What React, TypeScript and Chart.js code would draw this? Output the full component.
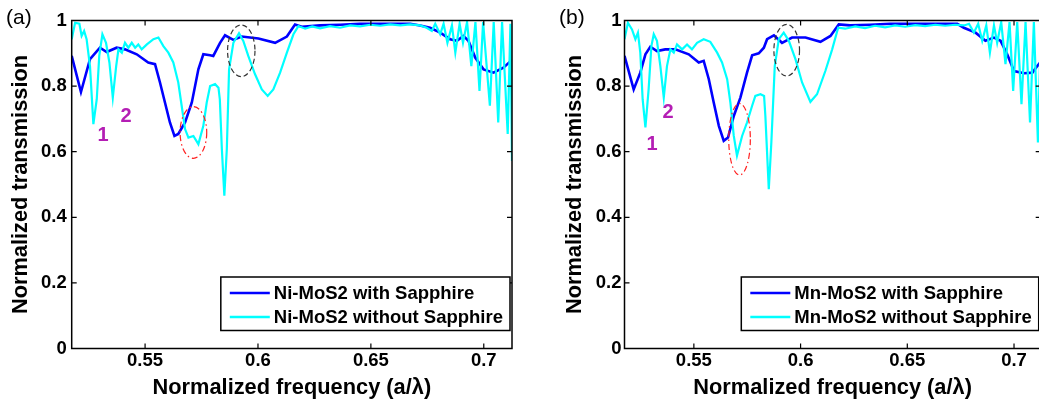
import React, { useEffect, useRef } from 'react';
import { Chart, registerables } from 'chart.js';

Chart.register(...registerables);

const FONT = '"Liberation Sans", Arial, Helvetica, sans-serif';

const xTickValues = [0.55, 0.6, 0.65, 0.7];
const xTickLabels = ['0.55', '0.6', '0.65', '0.7'];
const yTickValues = [0, 0.2, 0.4, 0.6, 0.8, 1];
const yTickLabels = ['0', '0.2', '0.4', '0.6', '0.8', '1'];
const xMin = 0.5175;
const xMax = 0.7125;

// Panel (a): Ni-MoS2
const niWithFreq = [0.5175,0.5216,0.5256,0.5300,0.5330,0.5374,0.5411,0.5463,0.5514,0.5544,0.5566,0.5588,0.5610,0.5630,0.5647,0.5677,0.5707,0.5736,0.5758,0.5788,0.5802,0.5832,0.5854,0.5891,0.5928,0.6002,0.6076,0.6128,0.6164,0.6194,0.6275,0.6364,0.6452,0.6541,0.6630,0.6674,0.6718,0.6762,0.6807,0.6851,0.6881,0.6910,0.6932,0.6962,0.6999,0.7043,0.7087,0.7125];
const niWithT = [0.892,0.782,0.882,0.917,0.904,0.917,0.912,0.897,0.872,0.867,0.811,0.750,0.689,0.648,0.654,0.689,0.750,0.851,0.897,0.894,0.892,0.932,0.955,0.941,0.951,0.945,0.932,0.951,0.988,0.981,0.985,0.987,0.990,0.990,0.990,0.990,0.985,0.978,0.963,0.943,0.938,0.953,0.938,0.887,0.851,0.841,0.856,0.880];

const niWithoutFreq = [0.5175,0.5190,0.5209,0.5219,0.5230,0.5241,0.5256,0.5271,0.5286,0.5297,0.5311,0.5327,0.5342,0.5357,0.5372,0.5382,0.5397,0.5411,0.5426,0.5441,0.5456,0.5470,0.5485,0.5508,0.5537,0.5559,0.5581,0.5603,0.5625,0.5647,0.5662,0.5677,0.5692,0.5714,0.5736,0.5758,0.5773,0.5788,0.5810,0.5825,0.5831,0.5840,0.5851,0.5862,0.5872,0.5891,0.5916,0.5935,0.5957,0.5987,0.6017,0.6043,0.6068,0.6098,0.6128,0.6157,0.6179,0.6209,0.6240,0.6275,0.6319,0.6364,0.6408,0.6452,0.6497,0.6541,0.6585,0.6630,0.6674,0.6718,0.6747,0.6770,0.6785,0.6807,0.6822,0.6839,0.6859,0.6874,0.6893,0.6908,0.6926,0.6945,0.6963,0.6981,0.6997,0.7027,0.7044,0.7064,0.7081,0.7106,0.7118,0.7125];
const niWithoutT = [0.943,0.993,0.990,0.953,0.968,0.943,0.861,0.684,0.760,0.892,0.958,0.932,0.872,0.765,0.861,0.912,0.902,0.932,0.917,0.932,0.917,0.927,0.912,0.927,0.943,0.948,0.922,0.902,0.872,0.811,0.740,0.669,0.643,0.648,0.623,0.679,0.750,0.800,0.806,0.795,0.760,0.608,0.466,0.608,0.851,0.932,0.961,0.938,0.892,0.836,0.790,0.770,0.790,0.841,0.902,0.958,0.983,0.975,0.982,0.976,0.983,0.978,0.985,0.982,0.987,0.984,0.988,0.985,0.988,0.985,0.978,0.968,0.990,0.958,0.990,0.932,0.985,0.902,0.990,0.932,0.995,0.861,0.995,0.785,0.995,0.740,0.995,0.689,0.995,0.654,0.990,0.572];

// Panel (b): Mn-MoS2
const mnWithFreq = [0.5175,0.5218,0.5249,0.5273,0.5296,0.5327,0.5366,0.5413,0.5476,0.5523,0.5546,0.5570,0.5593,0.5617,0.5640,0.5660,0.5687,0.5718,0.5749,0.5773,0.5804,0.5828,0.5843,0.5875,0.5913,0.5960,0.6023,0.6093,0.6140,0.6179,0.6232,0.6326,0.6420,0.6513,0.6607,0.6734,0.6765,0.6820,0.6866,0.6906,0.6937,0.6968,0.7000,0.7047,0.7086,0.7109,0.7126];
const mnWithT = [0.892,0.790,0.841,0.897,0.920,0.907,0.912,0.912,0.897,0.872,0.877,0.821,0.750,0.679,0.633,0.643,0.709,0.765,0.841,0.894,0.900,0.917,0.943,0.955,0.932,0.948,0.948,0.935,0.953,0.988,0.985,0.987,0.990,0.990,0.990,0.990,0.978,0.963,0.938,0.948,0.938,0.897,0.846,0.839,0.841,0.861,0.875];

const mnWithoutFreq = [0.5175,0.5191,0.5210,0.5226,0.5238,0.5249,0.5260,0.5273,0.5288,0.5301,0.5312,0.5327,0.5343,0.5359,0.5374,0.5390,0.5406,0.5421,0.5445,0.5468,0.5491,0.5515,0.5546,0.5577,0.5609,0.5632,0.5656,0.5671,0.5687,0.5702,0.5726,0.5749,0.5773,0.5788,0.5812,0.5829,0.5835,0.5851,0.5863,0.5879,0.5898,0.5921,0.5945,0.5976,0.6007,0.6046,0.6077,0.6116,0.6148,0.6176,0.6209,0.6256,0.6302,0.6349,0.6396,0.6443,0.6490,0.6537,0.6584,0.6631,0.6678,0.6724,0.6767,0.6789,0.6812,0.6832,0.6851,0.6870,0.6887,0.6906,0.6921,0.6940,0.6960,0.6979,0.6996,0.7015,0.7035,0.7054,0.7075,0.7093,0.7112,0.7126];
const mnWithoutT = [0.943,0.993,0.973,0.943,0.963,0.902,0.760,0.674,0.790,0.922,0.958,0.938,0.861,0.765,0.861,0.912,0.902,0.927,0.912,0.927,0.912,0.932,0.943,0.935,0.902,0.872,0.821,0.750,0.648,0.588,0.648,0.689,0.740,0.770,0.775,0.770,0.709,0.486,0.628,0.861,0.943,0.963,0.938,0.882,0.811,0.752,0.775,0.846,0.912,0.978,0.975,0.982,0.977,0.984,0.979,0.985,0.981,0.986,0.983,0.987,0.984,0.987,0.985,0.990,0.963,0.990,0.938,0.985,0.902,0.985,0.932,0.995,0.867,0.995,0.785,0.995,0.745,0.995,0.689,0.995,0.628,0.980];

type Ellipse = { cx: number; cy: number; rx: number; ry: number; color: string; dash: number[] };
type Note = { x: number; y: number; text: string };

interface PanelSpec {
  tag: string;
  tagX: number;
  withLabel: string;
  withoutLabel: string;
  withFreq: number[];
  withT: number[];
  withoutFreq: number[];
  withoutT: number[];
  yAxisWidth: number;
  padRight: number;
  yTickPad: number;
  yTitlePad: number;
  ellipses: Ellipse[];
  notes: Note[];
}

const RED_DASH = [6, 3, 1.5, 3];
const BLACK_DASH = [5, 3];

const TICK_SIZE = 18.5;
const TITLE_SIZE = 21.8;
const LEGEND_SIZE = 18.5;

const panelA: PanelSpec = {
  tag: '(a)',
  tagX: 6,
  withLabel: 'Ni-MoS2 with Sapphire',
  withoutLabel: 'Ni-MoS2 without Sapphire',
  withFreq: niWithFreq,
  withT: niWithT,
  withoutFreq: niWithoutFreq,
  withoutT: niWithoutT,
  yAxisWidth: 71.7,
  padRight: 8,
  yTickPad: 5,
  yTitlePad: 7.9,
  ellipses: [
    { cx: 0.5714, cy: 0.6585, rx: 0.0059, ry: 0.0787, color: '#ff2020', dash: RED_DASH },
    { cx: 0.5926, cy: 0.9076, rx: 0.00607, ry: 0.0787, color: '#333333', dash: BLACK_DASH },
  ],
  notes: [
    { x: 0.5314, y: 0.648, text: '1' },
    { x: 0.5416, y: 0.706, text: '2' },
  ],
};

const panelB: PanelSpec = {
  tag: '(b)',
  tagX: 39,
  withLabel: 'Mn-MoS2 with Sapphire',
  withoutLabel: 'Mn-MoS2 without Sapphire',
  withFreq: mnWithFreq,
  withT: mnWithT,
  withoutFreq: mnWithoutFreq,
  withoutT: mnWithoutT,
  yAxisWidth: 104.5,
  padRight: 9.3,
  yTickPad: 3,
  yTitlePad: 41.9,
  ellipses: [
    { cx: 0.5714, cy: 0.638, rx: 0.00506, ry: 0.109, color: '#ff2020', dash: RED_DASH },
    { cx: 0.5935, cy: 0.9095, rx: 0.006, ry: 0.0787, color: '#333333', dash: BLACK_DASH },
  ],
  notes: [
    { x: 0.5304, y: 0.623, text: '1' },
    { x: 0.5379, y: 0.721, text: '2' },
  ],
};

const decorPlugin = {
  id: 'decor',
  afterDraw(chart: any, _args: any, opts: any) {
    const ctx: CanvasRenderingContext2D = chart.ctx;
    const { left, top, right, bottom } = chart.chartArea;
    const xs = chart.scales.x;
    const ys = chart.scales.y;
    ctx.save();

    // ellipses
    for (const e of opts.ellipses as Ellipse[]) {
      const cx = xs.getPixelForValue(e.cx);
      const cy = ys.getPixelForValue(e.cy);
      const rx = Math.abs(xs.getPixelForValue(e.cx + e.rx) - cx);
      const ry = Math.abs(ys.getPixelForValue(e.cy + e.ry) - cy);
      ctx.beginPath();
      ctx.setLineDash(e.dash);
      ctx.strokeStyle = e.color;
      ctx.lineWidth = 1.2;
      ctx.ellipse(cx, cy, rx, ry, 0, 0, Math.PI * 2);
      ctx.stroke();
    }
    ctx.setLineDash([]);

    // notes
    ctx.fillStyle = '#b41eb4';
    ctx.font = `bold 20px ${FONT}`;
    ctx.textAlign = 'center';
    ctx.textBaseline = 'middle';
    for (const n of opts.notes as Note[]) {
      ctx.fillText(n.text, xs.getPixelForValue(n.x), ys.getPixelForValue(n.y));
    }

    // frame
    ctx.strokeStyle = '#000';
    ctx.lineWidth = 1.5;
    ctx.strokeRect(left, top, right - left, bottom - top);

    // inward ticks
    ctx.lineWidth = 1.2;
    ctx.beginPath();
    for (const v of xTickValues) {
      const px = xs.getPixelForValue(v);
      ctx.moveTo(px, bottom);
      ctx.lineTo(px, bottom - 5);
      ctx.moveTo(px, top);
      ctx.lineTo(px, top + 5);
    }
    for (const v of yTickValues) {
      const py = ys.getPixelForValue(v);
      ctx.moveTo(left, py);
      ctx.lineTo(left + 5, py);
      ctx.moveTo(right, py);
      ctx.lineTo(right - 5, py);
    }
    ctx.stroke();

    // legend
    const ds = chart.data.datasets;
    ctx.font = `bold ${LEGEND_SIZE}px ${FONT}`;
    let tw = 0;
    for (const d of ds) tw = Math.max(tw, ctx.measureText(d.label).width);
    const boxW = 9 + 40 + 4 + tw + 7;
    const boxH = 53.5;
    const bx = right - 2 - boxW;
    const by = bottom - 18 - boxH;
    ctx.fillStyle = '#fff';
    ctx.fillRect(bx, by, boxW, boxH);
    ctx.strokeStyle = '#000';
    ctx.lineWidth = 1.5;
    ctx.strokeRect(bx, by, boxW, boxH);
    const rows = [by + 16, by + 40];
    ds.forEach((d: any, i: number) => {
      const ry = rows[i];
      ctx.beginPath();
      ctx.strokeStyle = d.borderColor;
      ctx.lineWidth = 2.5;
      ctx.moveTo(bx + 9, ry);
      ctx.lineTo(bx + 49, ry);
      ctx.stroke();
      ctx.fillStyle = '#000';
      ctx.textAlign = 'left';
      ctx.textBaseline = 'middle';
      ctx.fillText(d.label, bx + 53, ry + 1);
    });

    // panel tag
    ctx.font = `21px ${FONT}`;
    ctx.fillStyle = '#000';
    ctx.textAlign = 'left';
    ctx.textBaseline = 'alphabetic';
    ctx.fillText(opts.tag, opts.tagX, 23.6);

    ctx.restore();
  },
};

function makeChart(canvas: HTMLCanvasElement, p: PanelSpec) {
  return new Chart(canvas, {
    type: 'line',
    data: {
      datasets: [
        {
          label: p.withLabel,
          data: p.withFreq.map((x, i) => ({ x, y: p.withT[i] })),
          borderColor: '#0000ff',
          borderWidth: 2.6,
          pointRadius: 0,
          tension: 0,
          order: 1,
        },
        {
          label: p.withoutLabel,
          data: p.withoutFreq.map((x, i) => ({ x, y: p.withoutT[i] })),
          borderColor: '#00ffff',
          borderWidth: 2.2,
          pointRadius: 0,
          tension: 0,
          order: 0,
        },
      ],
    },
    options: {
      animation: false,
      responsive: false,
      maintainAspectRatio: false,
      events: [],
      layout: { padding: { left: 0, top: 20.5, right: p.padRight, bottom: 0 } },
      plugins: {
        legend: { display: false },
        tooltip: { enabled: false },
        decor: { tag: p.tag, tagX: p.tagX, ellipses: p.ellipses, notes: p.notes },
      } as any,
      scales: {
        x: {
          type: 'linear',
          min: xMin,
          max: xMax,
          grid: { display: false, drawTicks: false },
          border: { display: false },
          afterBuildTicks: (s: any) => {
            s.ticks = xTickValues.map((value) => ({ value }));
          },
          afterFit: (s: any) => {
            s.height = 54.5;
          },
          ticks: {
            padding: 1.4,
            color: '#000',
            font: { family: FONT, size: TICK_SIZE, weight: 'bold' },
            maxRotation: 0,
            autoSkip: false,
            callback: (v: any) => {
              const i = xTickValues.findIndex((t) => Math.abs(t - Number(v)) < 1e-9);
              return i >= 0 ? xTickLabels[i] : '';
            },
          },
          title: {
            display: true,
            text: 'Normalized frequency (a/λ)',
            color: '#000',
            font: { family: FONT, size: TITLE_SIZE, weight: 'bold', lineHeight: 1.2 },
            padding: { top: 0, bottom: 1.9 },
          },
        },
        y: {
          type: 'linear',
          min: 0,
          max: 1,
          grid: { display: false, drawTicks: false },
          border: { display: false },
          afterBuildTicks: (s: any) => {
            s.ticks = yTickValues.map((value) => ({ value }));
          },
          afterFit: (s: any) => {
            s.width = p.yAxisWidth;
          },
          ticks: {
            padding: p.yTickPad,
            color: '#000',
            font: { family: FONT, size: TICK_SIZE, weight: 'bold' },
            autoSkip: false,
            callback: (v: any) => {
              const i = yTickValues.findIndex((t) => Math.abs(t - Number(v)) < 1e-9);
              return i >= 0 ? yTickLabels[i] : '';
            },
          },
          title: {
            display: true,
            text: 'Normalized transmission',
            color: '#000',
            font: { family: FONT, size: TITLE_SIZE, weight: 'bold', lineHeight: 1.2 },
            padding: { top: p.yTitlePad, bottom: 0 },
          },
        },
      },
    },
    plugins: [decorPlugin],
  } as any);
}

export default function App() {
  const leftRef = useRef<HTMLCanvasElement | null>(null);
  const rightRef = useRef<HTMLCanvasElement | null>(null);

  useEffect(() => {
    const charts: Chart[] = [];
    if (leftRef.current) charts.push(makeChart(leftRef.current, panelA));
    if (rightRef.current) charts.push(makeChart(rightRef.current, panelB));
    return () => {
      charts.forEach((c) => c.destroy());
    };
  }, []);

  return (
    <div
      style={{
        position: 'fixed',
        left: 0,
        top: 0,
        width: 1039,
        height: 403,
        overflow: 'hidden',
        background: '#fff',
      }}
    >
      <canvas
        ref={leftRef}
        width={520}
        height={403}
        style={{ position: 'absolute', left: 0, top: 0, width: 520, height: 403 }}
      />
      <canvas
        ref={rightRef}
        width={530}
        height={403}
        style={{ position: 'absolute', left: 520, top: 0, width: 530, height: 403 }}
      />
    </div>
  );
}
